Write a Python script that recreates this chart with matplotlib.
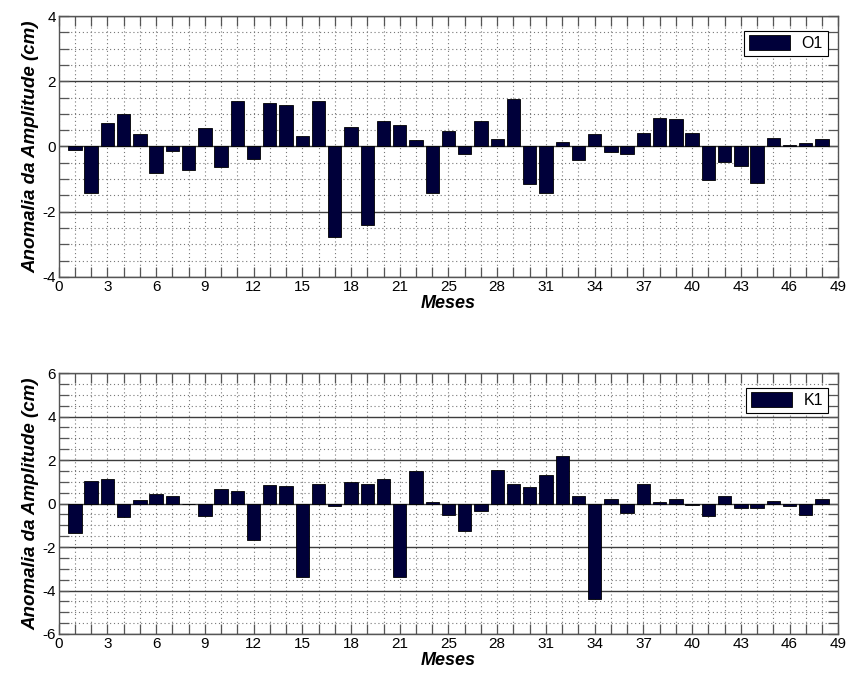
import numpy as np
import matplotlib
matplotlib.use("Agg")
import matplotlib.pyplot as plt
from matplotlib.ticker import MultipleLocator, FixedLocator, FixedFormatter

plt.rcParams['font.family'] = ['Liberation Sans', 'DejaVu Sans']
plt.rcParams['axes.unicode_minus'] = False

meses = np.arange(1, 48)

o1 = [-0.10, -1.43, 0.72, 1.00, 0.39, -0.81, -0.15, -0.72, 0.58, -0.64,
      1.38, -0.39, 1.33, 1.27, 0.31, 1.38, -2.77, 0.60, -2.40, 0.78,
      0.65, 0.21, -1.43, 0.46, -0.23, 0.78, 0.24, 1.45, -1.14, -1.43,
      0.15, -0.41, 0.38, -0.17, -0.23, 0.41, 0.87, 0.85, 0.41, -1.04,
      -0.49, -0.61, -1.12, 0.26, 0.03, 0.10, 0.24]

k1 = [-1.34, 1.06, 1.14, -0.60, 0.17, 0.45, 0.37, 0.00, -0.57, 0.68,
      0.60, -1.69, 0.85, 0.80, -3.37, 0.88, -0.09, 1.00, 0.88, 1.11,
      -3.37, 1.51, 0.09, -0.51, -1.26, -0.32, 1.54, 0.91, 0.75, 1.31,
      2.20, 0.34, -4.37, 0.20, -0.45, 0.91, 0.09, 0.20, -0.05, -0.55,
      0.37, -0.22, -0.22, 0.14, -0.09, -0.51, 0.20]

# 48 bar slots stretched over 49 months on the axis labels
x_ticks = np.arange(0, 49, 3)
x_labels = [str(int(t * 49 / 48 + 0.5)) for t in x_ticks]

fig = plt.figure(figsize=(8.49, 6.82), dpi=100)
ax1 = fig.add_axes([0.0691, 0.594, 0.9183, 0.3825])
ax2 = fig.add_axes([0.0691, 0.0704, 0.9183, 0.3825])

bar_color = '#00003a'
dark = '#3c3c3c'


def draw(ax, vals, name, ylim, ystep):
    ax.bar(meses, vals, width=0.82, color=bar_color, edgecolor='black',
           linewidth=0.6, label=name, zorder=3)
    ax.set_xlim(0, 48)
    ax.set_ylim(*ylim)
    ax.xaxis.set_major_locator(FixedLocator(x_ticks))
    ax.xaxis.set_major_formatter(FixedFormatter(x_labels))
    ax.xaxis.set_minor_locator(MultipleLocator(1))
    ax.yaxis.set_major_locator(MultipleLocator(ystep))
    ax.yaxis.set_minor_locator(MultipleLocator(0.5))
    ax.tick_params(which='both', direction='in', top=True, right=True,
                   length=7, width=0.9, color='#555555', labelsize=11,
                   pad=2)
    ax.grid(which='minor', axis='both', linestyle=(0, (1, 2.5)),
            color='#777777', linewidth=0.8, zorder=0)
    ax.grid(which='major', axis='x', linestyle=(0, (1, 2.5)),
            color='#777777', linewidth=0.8, zorder=0)
    ax.grid(which='major', axis='y', linestyle='-', color=dark,
            linewidth=1.0, zorder=1)
    for s in ax.spines.values():
        s.set_color('#555555')
        s.set_linewidth(1.0)
    ax.set_xlabel('Meses', fontsize=13, fontweight='bold', style='italic',
                  labelpad=1)
    ax.set_ylabel('Anomalia da Amplitude (cm)', fontsize=13.5,
                  fontweight='bold', style='italic', labelpad=2)
    leg = ax.legend(loc='upper right', fontsize=11.5, fancybox=False,
                    framealpha=1, edgecolor='black', borderpad=0.3,
                    handlelength=2.6, handleheight=1.0, handletextpad=0.7,
                    bbox_to_anchor=(0.9965, 0.975))
    leg.get_frame().set_linewidth(0.8)
    leg.set_zorder(5)


draw(ax1, o1, 'O1', (-4, 4), 2)
draw(ax2, k1, 'K1', (-6, 6), 2)

fig.savefig('out.png', dpi=100)
